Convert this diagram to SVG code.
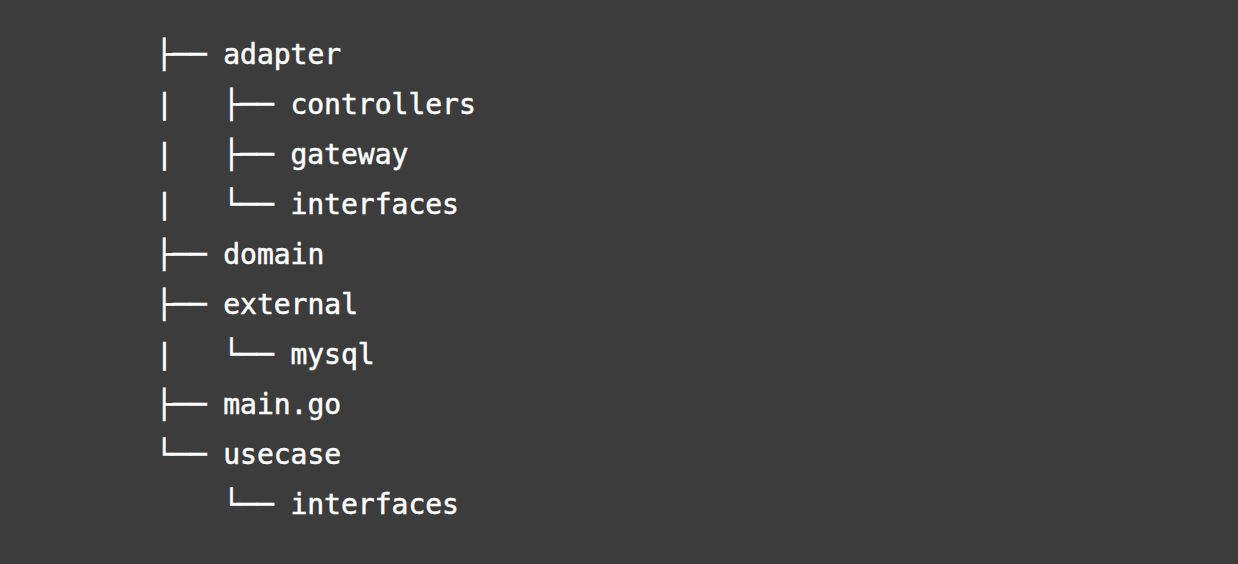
<svg xmlns="http://www.w3.org/2000/svg" width="1238" height="564" viewBox="0 0 1238 564">
<style>
text { font-family: "DejaVu Sans Mono", "Liberation Mono", monospace; font-size: 28px; fill: #ffffff; stroke: #ffffff; stroke-width: 0.5px; }
</style>
<rect x="0" y="0" width="1238" height="564" fill="#3c3c3c"/>
<g id="connectors">
<text x="156" y="63.5">├──</text>
<text x="156" y="113.5">|</text><text x="223.2" y="113.5">├──</text>
<text x="156" y="163.5">|</text><text x="223.2" y="163.5">├──</text>
<text x="156" y="213.5">|</text><text x="223.2" y="213.5">└──</text>
<text x="156" y="263.5">├──</text>
<text x="156" y="313.5">├──</text>
<text x="156" y="363.5">|</text><text x="223.2" y="363.5">└──</text>
<text x="156" y="413.5">├──</text>
<text x="156" y="463.5">└──</text>
<text x="223.2" y="513.5">└──</text>
</g>
<g id="adapter"><text x="223.2" y="63.5">adapter</text></g>
<g id="controllers"><text x="290.4" y="113.5">controllers</text></g>
<g id="gateway"><text x="290.4" y="163.5">gateway</text></g>
<g id="adapter-interfaces"><text x="290.4" y="213.5">interfaces</text></g>
<g id="domain"><text x="223.2" y="263.5">domain</text></g>
<g id="external"><text x="223.2" y="313.5">external</text></g>
<g id="mysql"><text x="290.4" y="363.5">mysql</text></g>
<g id="main-go"><text x="223.2" y="413.5">main.go</text></g>
<g id="usecase"><text x="223.2" y="463.5">usecase</text></g>
<g id="usecase-interfaces"><text x="290.4" y="513.5">interfaces</text></g>
</svg>
